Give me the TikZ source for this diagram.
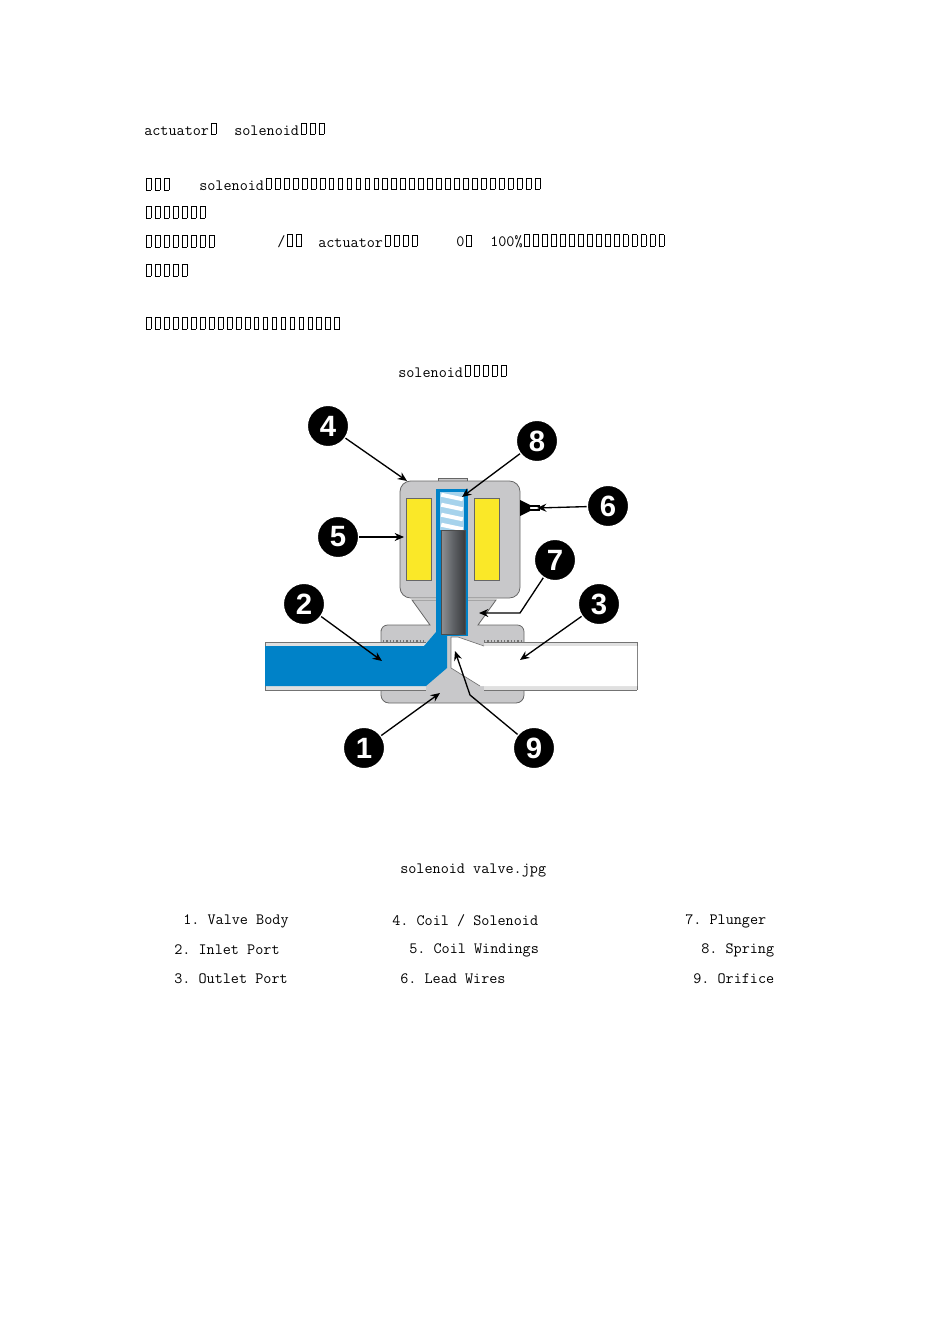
\documentclass[tikz,border=0pt]{standalone}
\usepackage{fontspec}
\setsansfont{Liberation Sans}
\usetikzlibrary{arrows.meta}
\newcommand\bx{\hbox to 0.57em{\hss\vbox{\hrule width .34em height .035em\hbox{\vrule width .035em height .7em\kern .27em\vrule width .035em}\hrule height .035em}\hss}}
\newcommand\bxn[1]{\foreach\i in {1,...,#1}{\bx}}
\definecolor{fblue}{RGB}{0,130,200}
\definecolor{bodyg}{RGB}{200,200,202}
\definecolor{coily}{RGB}{250,232,40}
\definecolor{plg}{RGB}{95,98,102}
\begin{document}
\begin{tikzpicture}[x=0.75pt,y=-0.75pt,
  txt/.style={anchor=west,inner sep=0,font=\ttfamily\fontsize{11.8}{13}\selectfont},
  call/.style={circle,fill=black,draw=white,line width=1pt,minimum size=31pt,inner sep=0,text=white,font=\sffamily\bfseries\fontsize{22}{24}\selectfont},
  arr/.style={-{Stealth[length=7pt,width=6pt]},line width=1pt},
  outl/.style={draw=black!60,line width=0.6pt}]
\useasboundingbox (0,0) rectangle (950,1344);
% texts
\node[txt] (t1) at (144,129) {actuator\bx\ \ solenoid\bxn{3}};
\node[txt] (t2a) at (144,184) {\bxn{3}};
\node[txt] (t2b) at (199,184) {solenoid\bxn{31}};
\node[txt] (t3) at (144,212) {\bxn{7}};
\node[txt] (t4a) at (144,241) {\bxn{8}};
\node[txt] (t4b) at (277,241) {/\bxn{2}};
\node[txt] (t4c) at (318,241) {actuator\bxn{4}};
\node[txt] (t4d) at (456,241) {0\bx};
\node[txt] (t4e) at (490,241) {100\%\bxn{16}};
\node[txt] (t5) at (144,270) {\bxn{5}};
\node[txt] (t6) at (144,323) {\bxn{22}};
\node[txt] (cap) at (398,371) {solenoid\bxn{5}};
\node[txt] (cap2) at (400,870) {solenoid valve.jpg};
\node[txt] (l1) at (183,921) {1.\ Valve Body};
\node[txt] (l2) at (174,950) {2.\ Inlet Port};
\node[txt] (l3) at (174,979) {3.\ Outlet Port};
\node[txt] (l4) at (392,921) {4.\ Coil / Solenoid};
\node[txt] (l5) at (409,950) {5.\ Coil Windings};
\node[txt] (l6) at (400,979) {6.\ Lead Wires};
\node[txt] (l7) at (685,921) {7.\ Plunger};
\node[txt] (l8) at (701,950) {8.\ Spring};
\node[txt] (l9) at (693,979) {9.\ Orifice};
% valve body
\fill[bodyg,outl] (381,630) to[rounded corners=5pt] (381,625) -- (430,625) -- (412,600) -- (496,600) -- (478,625) to[rounded corners=5pt] (524,625) to[rounded corners=6pt] (524,703) to[rounded corners=6pt] (381,703) -- cycle;
% threads
\draw[black!55,dash pattern=on 1pt off 1.5pt,line width=1.2pt] (383,641) -- (426,641) (484,641) -- (522,641) (383,690) -- (426,690) (484,690) -- (522,690);
% pipes walls
\fill[black!12] (265,642) rectangle (426,690);
\fill[black!12] (484,642) rectangle (637,690);
\draw[black!55,line width=0.6pt] (265,642) -- (426,642) (265,690) -- (426,690) (484,642) -- (637,642) (484,690) -- (637,690) (265,642) -- (265,690) (637,642) -- (637,690);
% inlet blue channel
\fill[fblue] (265,646) -- (424,646) -- (436,632) -- (447,632) -- (447,668) -- (426,686) -- (265,686) -- cycle;
% outlet white
\fill[white] (637,646) -- (484,646) -- (458,637) -- (451,637) -- (451,668) -- (480,686) -- (637,686) -- cycle;
\draw[black!55,line width=0.5pt] (484,646) -- (458,637) -- (451,637) -- (451,668) -- (480,686);
% coil housing
\fill[bodyg,outl] (438,483) rectangle (467,478);
\fill[bodyg,outl,rounded corners=8pt] (400,481) rectangle (520,598);
\fill[coily,outl] (406,498) rectangle (431,580);
\fill[coily,outl] (474,498) rectangle (499,580);
% tube + spring + plunger
\fill[fblue] (436,489) rectangle (468,636);
\fill[fblue!35] (440,492) rectangle (464,530);
\foreach \yy in {497,507,517,527}
  \fill[white,rotate around={-12:(452,\yy)}] (441,\yy-2) rectangle (463,\yy+2);
\shade[left color=plg!70,right color=plg!60!black,middle color=plg] (441,530) rectangle (465,634);
\draw[black!70,line width=0.5pt] (441,530) rectangle (465,634);
% lead wire
\fill[black] (520,500) -- (530,505) -- (530,511) -- (520,516) -- cycle;
\draw[black,line width=1pt] (530,506) -- (540,506) (530,510) -- (540,510);
% callouts
\node[call] (c4) at (328,426) {4};
\node[call] (c8) at (537,441) {8};
\node[call] (c6) at (608,506) {6};
\node[call] (c5) at (338,537) {5};
\node[call] (c7) at (555,560) {7};
\node[call] (c2) at (304,604) {2};
\node[call] (c3) at (599,604) {3};
\node[call] (c1) at (364,748) {1};
\node[call] (c9) at (534,748) {9};
\coordinate (e4) at (407,481);
\coordinate (e8) at (462,497);
\coordinate (e6) at (537,508);
\coordinate (e5) at (404,537);
\coordinate (e7) at (479,613);
\coordinate (e2) at (382,661);
\coordinate (e3) at (520,660);
\coordinate (e1) at (440,693);
\coordinate (e9) at (455,651);
\coordinate (k7) at (520,613);
\coordinate (k9) at (470,695);
\draw[arr] (c4) -- (e4);
\draw[arr] (c8) -- (e8);
\draw[arr] (c6) -- (e6);
\draw[arr] (c5) -- (e5);
\draw[arr] (c7) -- (k7) -- (e7);
\draw[arr] (c2) -- (e2);
\draw[arr] (c3) -- (e3);
\draw[arr] (c1) -- (e1);
\draw[arr] (c9) -- (k9) -- (e9);
\end{tikzpicture}
\end{document}
